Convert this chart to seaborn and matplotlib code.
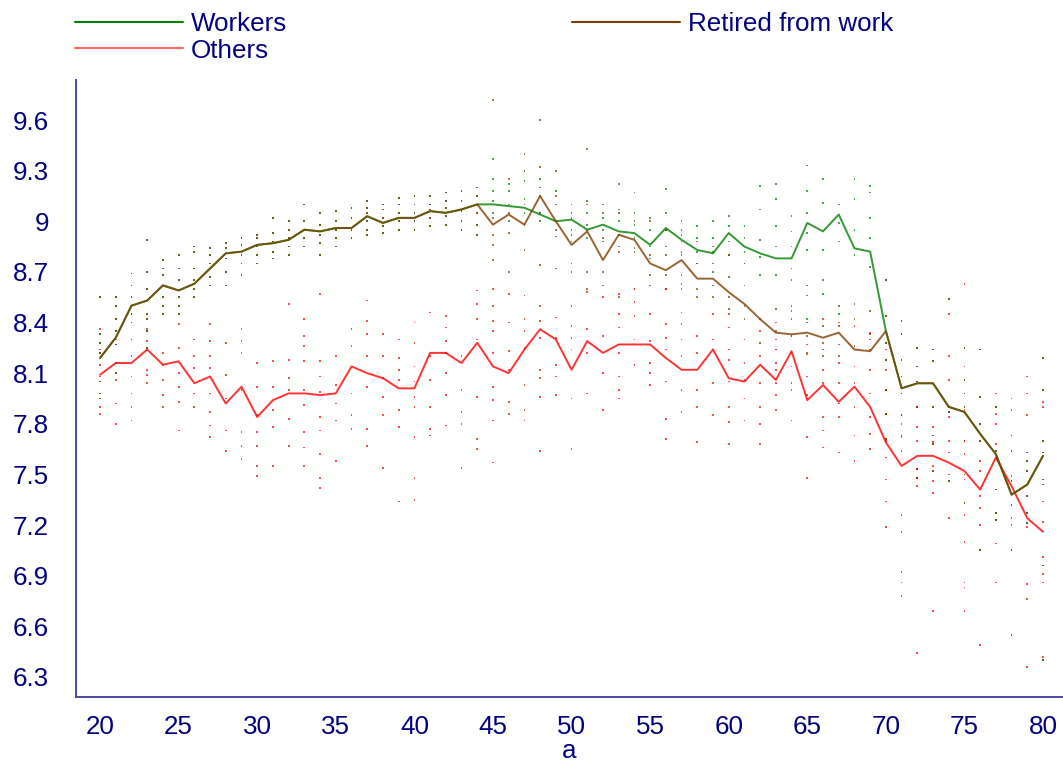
import numpy as np
import pandas as pd
import matplotlib
matplotlib.use("Agg")
import matplotlib.pyplot as plt
from matplotlib.lines import Line2D
import seaborn as sns

# ages on the x axis
ages = list(range(20, 81))

# mean line per group (one value per age 20..80)
workers_line = [8.19, 8.31, 8.50, 8.53, 8.62, 8.59, 8.63, 8.72, 8.81, 8.82,
                8.86, 8.87, 8.89, 8.95, 8.94, 8.96, 8.96, 9.03, 8.99, 9.02,
                9.02, 9.06, 9.05, 9.07, 9.10, 9.10, 9.09, 9.08, 9.04, 9.00,
                9.01, 8.95, 8.98, 8.94, 8.93, 8.86, 8.96, 8.89, 8.83, 8.81,
                8.93, 8.85, 8.81, 8.78, 8.78, 8.99, 8.94, 9.04, 8.84, 8.82,
                8.35, 8.01, 8.04, 8.04, 7.90, 7.87, 7.74, 7.62, 7.38, 7.44,
                7.61]
retired_line = [8.19, 8.31, 8.50, 8.53, 8.62, 8.59, 8.63, 8.72, 8.81, 8.82,
                8.86, 8.87, 8.89, 8.95, 8.94, 8.96, 8.96, 9.03, 8.99, 9.02,
                9.02, 9.06, 9.05, 9.07, 9.10, 8.98, 9.04, 8.98, 9.15, 9.00,
                8.86, 8.94, 8.77, 8.92, 8.89, 8.75, 8.71, 8.77, 8.66, 8.66,
                8.58, 8.51, 8.42, 8.34, 8.33, 8.34, 8.31, 8.34, 8.24, 8.23,
                8.35, 8.01, 8.04, 8.04, 7.90, 7.87, 7.74, 7.62, 7.38, 7.44,
                7.61]
others_line = [8.09, 8.16, 8.16, 8.24, 8.15, 8.17, 8.04, 8.08, 7.92, 8.02,
               7.84, 7.94, 7.98, 7.98, 7.97, 7.98, 8.14, 8.10, 8.07, 8.01,
               8.01, 8.22, 8.22, 8.16, 8.28, 8.14, 8.10, 8.24, 8.36, 8.30,
               8.12, 8.29, 8.22, 8.27, 8.27, 8.27, 8.19, 8.12, 8.12, 8.24,
               8.07, 8.05, 8.15, 8.06, 8.23, 7.94, 8.03, 7.93, 8.02, 7.90,
               7.69, 7.55, 7.61, 7.61, 7.57, 7.52, 7.41, 7.60, 7.43, 7.24,
               7.16]

# individual observations where workers and retired coincide
shared_dots = {
    20: [8.55, 8.33, 8.28, 8.22, 8.05, 7.98, 7.95],
    21: [8.55, 8.5, 8.42, 8.35, 8.27, 8.1],
    22: [8.69, 8.62, 8.55, 8.45, 8.4, 8.3],
    23: [8.89, 8.7, 8.6, 8.45, 8.42, 8.35, 8.25],
    24: [8.77, 8.72, 8.68, 8.55, 8.5, 8.45],
    25: [8.8, 8.72, 8.65, 8.55, 8.5, 8.45],
    26: [8.85, 8.82, 8.72, 8.65, 8.6, 8.55],
    27: [8.84, 8.8, 8.75, 8.67, 8.62],
    28: [8.87, 8.84, 8.78, 8.7, 8.62],
    29: [8.9, 8.86, 8.8, 8.75, 8.68],
    30: [8.92, 8.9, 8.85, 8.8, 8.75],
    31: [9.02, 8.93, 8.88, 8.82, 8.78],
    32: [9.0, 8.95, 8.9, 8.85, 8.8],
    33: [9.1, 9.0, 8.95, 8.9, 8.85],
    34: [9.05, 8.98, 8.92, 8.87, 8.8],
    35: [9.06, 9.0, 8.95, 8.9, 8.85],
    36: [9.08, 9.02, 8.95, 8.9],
    37: [9.12, 9.08, 9.05, 9.0, 8.95, 8.92],
    38: [9.1, 9.07, 9.02, 8.97, 8.93],
    39: [9.14, 9.1, 9.05, 9.0, 8.95],
    40: [9.15, 9.1, 9.05, 9.0, 8.95],
    41: [9.15, 9.1, 9.07, 9.02, 8.97],
    42: [9.17, 9.12, 9.08, 9.03, 8.98],
    43: [9.18, 9.12, 9.06, 9.0, 8.95],
    44: [9.2, 9.15, 9.1, 9.05, 8.98, 8.92],
    70: [8.65, 8.44, 8.28, 8.18, 8.0, 7.86, 7.71],
    71: [8.41, 8.33, 8.18, 8.08, 7.98, 7.85, 7.73],
    72: [8.25, 8.14, 8.05, 7.9, 7.53, 7.48],
    73: [8.24, 8.17, 7.9, 7.73, 7.68, 7.52],
    74: [8.54, 7.9, 7.87, 7.46],
    75: [8.25, 8.06, 7.98, 7.9, 7.7, 7.5, 7.33],
    76: [8.24, 7.96, 7.8, 7.7, 7.05],
    77: [7.9, 7.64, 7.41, 7.27, 7.23],
    78: [7.73, 7.64, 7.46, 7.32, 7.05, 6.55],
    79: [7.63, 7.58, 7.52, 7.37, 7.27, 7.21],
    80: [8.19, 8.0, 7.7, 7.63, 7.47, 7.44, 6.96, 6.4],
}

workers_dots = {
    45: [9.37, 9.25, 9.18, 9.12, 9.05],
    46: [9.22, 9.18, 9.1, 9.0],
    47: [9.3, 9.24, 9.13, 9.05],
    48: [9.25, 9.15, 9.05, 9.0],
    49: [9.18, 9.1, 9.0, 8.91],
    50: [9.1, 9.02, 8.95, 8.88],
    51: [9.12, 9.05, 8.98, 8.9],
    52: [9.1, 9.02, 8.95, 8.88],
    53: [9.07, 9.0, 8.92, 8.85],
    54: [9.05, 8.98, 8.9, 8.82],
    55: [9.02, 8.95, 8.85, 8.78],
    56: [9.19, 9.05, 8.95, 8.85],
    57: [9.0, 8.95, 8.88, 8.8],
    58: [8.97, 8.9, 8.82, 8.75],
    59: [9.0, 8.9, 8.82, 8.7],
    60: [9.03, 8.97, 8.88, 8.8],
    61: [8.97, 8.9, 8.82, 8.75],
    62: [9.21, 9.07, 8.89, 8.79, 8.68],
    63: [9.22, 9.13, 8.97, 8.85, 8.68],
    64: [9.03, 8.94, 8.85, 8.72, 8.65],
    65: [9.33, 9.18, 9.05, 8.93, 8.83, 8.62, 8.42],
    66: [9.25, 9.11, 8.83, 8.65, 8.57],
    67: [9.1, 8.99, 8.88, 8.45],
    68: [9.25, 9.13, 8.95, 8.8, 8.51],
    69: [9.21, 9.17, 9.02, 8.9, 8.73],
}

retired_dots = {
    45: [9.72, 9.02, 8.92, 8.86, 8.77],
    46: [9.25, 9.05, 8.93, 8.7],
    47: [9.4, 9.3, 9.1, 8.98, 8.83],
    48: [9.6, 9.32, 9.2, 9.05, 8.74],
    49: [9.3, 9.15, 8.95, 8.72],
    50: [9.05, 8.92, 8.75, 8.7],
    51: [9.43, 9.1, 8.95, 8.7, 8.6],
    52: [9.05, 8.9, 8.7, 8.62],
    53: [9.22, 9.05, 8.82, 8.55],
    54: [9.17, 9.0, 8.84, 8.6],
    55: [9.0, 8.8, 8.68, 8.62],
    56: [8.95, 8.8, 8.68, 8.6],
    57: [8.92, 8.82, 8.68, 8.6],
    58: [8.88, 8.75, 8.6, 8.55],
    59: [8.85, 8.75, 8.62, 8.55],
    60: [8.8, 8.67, 8.55, 8.48],
    61: [8.75, 8.62, 8.5, 8.42],
    62: [8.42, 8.28],
    63: [8.48, 8.35, 8.24],
    64: [8.5, 8.42, 8.32],
    65: [8.56, 8.32, 8.22],
    66: [8.38, 8.28, 8.2],
    67: [8.5, 8.4, 8.2],
    68: [8.42, 8.26],
    69: [8.47, 8.33, 8.3, 8.24],
}

others_dots = {
    20: [8.36, 8.24, 8.15, 8.08, 7.98, 7.9, 7.86],
    21: [8.3, 8.16, 8.06, 7.92, 7.8],
    22: [8.3, 8.2, 8.08, 7.98, 7.9, 7.82],
    23: [8.36, 8.29, 8.12, 8.09, 8.04],
    24: [8.22, 8.15, 8.06, 7.97, 7.9],
    25: [8.39, 8.25, 8.1, 8.02, 7.93, 7.76],
    26: [8.3, 8.2, 8.13, 7.98, 7.9],
    27: [8.39, 8.29, 8.2, 8.13, 7.98, 7.87, 7.79, 7.72],
    28: [8.28, 8.09, 7.95, 7.76, 7.64],
    29: [8.36, 8.29, 8.22, 8.0, 7.75, 7.67, 7.59],
    30: [8.16, 8.02, 7.85, 7.75, 7.67, 7.55, 7.49],
    31: [8.17, 8.02, 7.88, 7.78, 7.55],
    32: [8.51, 8.18, 8.07, 8.0, 7.83, 7.67],
    33: [8.42, 8.32, 8.26, 8.17, 8.0, 7.91, 7.75, 7.66, 7.55],
    34: [8.57, 8.17, 8.08, 7.99, 7.84, 7.76, 7.62, 7.48, 7.42],
    35: [8.2, 8.03, 7.92, 7.82, 7.58],
    36: [8.36, 8.26, 7.98, 7.85, 7.77],
    37: [8.53, 8.41, 8.33, 8.2, 8.02, 7.77, 7.67],
    38: [8.33, 8.2, 8.07, 7.96, 7.85, 7.54],
    39: [8.3, 8.19, 8.12, 8.06, 7.88, 7.78, 7.34],
    40: [8.4, 8.28, 8.14, 8.05, 7.96, 7.9, 7.72, 7.48, 7.35],
    41: [8.46, 8.2, 8.06, 7.9, 7.77, 7.73],
    42: [8.44, 8.37, 8.29, 8.22, 8.1, 7.97, 7.79],
    43: [8.2, 8.0, 7.87, 7.8, 7.54],
    44: [8.59, 8.51, 8.42, 8.3, 7.96, 7.71, 7.65],
    45: [8.6, 8.5, 8.41, 8.35, 8.22, 8.02, 7.94, 7.82, 7.57],
    46: [8.57, 8.4, 8.23, 8.12, 7.93, 7.86],
    47: [8.56, 8.42, 8.35, 8.25, 8.03, 7.88, 7.82],
    48: [8.5, 8.41, 8.31, 8.12, 8.07, 7.96, 7.64],
    49: [8.43, 8.31, 8.15, 8.08, 7.97],
    50: [8.5, 8.38, 8.31, 8.24, 7.95, 7.65],
    51: [8.58, 8.36, 8.22, 7.98],
    52: [8.55, 8.32, 8.1, 7.88],
    53: [8.57, 8.45, 8.37, 8.22, 8.08, 8.0, 7.95],
    54: [8.6, 8.52, 8.44, 8.3, 8.15],
    55: [8.45, 8.29, 8.16, 8.1, 8.03],
    56: [8.6, 8.39, 8.31, 8.24, 8.05, 7.83, 7.71],
    57: [8.63, 8.46, 8.39, 8.3, 8.2, 8.0, 7.87],
    58: [8.32, 8.22, 8.0, 7.9, 7.69],
    59: [8.45, 8.3, 8.24, 8.04, 7.85],
    60: [8.45, 8.37, 8.24, 8.18, 8.05, 7.9, 7.81, 7.68],
    61: [8.3, 8.16, 8.06, 7.95, 7.82],
    62: [8.35, 8.2, 8.04, 7.9, 7.8, 7.68],
    63: [8.4, 8.3, 8.24, 8.16, 8.12, 8.04, 7.97, 7.88],
    64: [8.47, 8.32, 8.22, 8.14, 8.04, 8.0, 7.82],
    65: [8.4, 8.27, 8.21, 8.08, 7.97, 7.72, 7.48],
    66: [8.42, 8.24, 8.12, 8.04, 7.84, 7.76, 7.66],
    67: [8.38, 8.27, 8.16, 8.04, 7.92, 7.84, 7.63],
    68: [8.38, 8.24, 8.14, 8.04, 7.9, 7.73, 7.58],
    69: [8.34, 8.24, 8.12, 7.98, 7.84, 7.74, 7.65],
    70: [8.24, 8.12, 8.0, 7.86, 7.7, 7.6, 7.47, 7.34, 7.19],
    71: [7.98, 7.85, 7.8, 7.72, 7.64, 7.26, 7.16, 6.92, 6.86, 6.78],
    72: [7.9, 7.78, 7.7, 7.53, 7.48, 7.43, 6.44],
    73: [7.78, 7.69, 7.55, 7.46, 7.39, 6.69],
    74: [8.45, 8.2, 8.06, 7.84, 7.7, 7.63, 7.5, 7.24],
    75: [8.63, 8.14, 7.88, 7.7, 7.62, 7.47, 7.26, 7.1, 6.86, 6.83, 6.69],
    76: [7.58, 7.52, 7.37, 7.3, 7.2, 6.49],
    77: [7.98, 7.86, 7.8, 7.68, 7.09, 6.86],
    78: [7.95, 7.88, 7.49, 7.24, 7.2],
    79: [8.08, 7.98, 7.85, 7.19, 6.85, 6.76, 6.36],
    80: [7.93, 7.9, 7.34, 7.22, 7.01, 6.91, 6.86, 6.42],
}

y_ticks = [6.3, 6.6, 6.9, 7.2, 7.5, 7.8, 8.1, 8.4, 8.7, 9.0, 9.3, 9.6]
y_tick_labels = ["6.3", "6.6", "6.9", "7.2", "7.5", "7.8", "8.1", "8.4",
                 "8.7", "9", "9.3", "9.6"]
x_ticks = list(range(20, 81, 5))

GREEN = "#008000"
BROWN = "#7f3f00"
RED = "#ff0000"
NAVY = "#000080"


def dots_frame(d, group):
    rows = [(age, v, group) for age, vals in d.items() for v in vals]
    return pd.DataFrame(rows, columns=["a", "y", "group"])


lines = pd.DataFrame({
    "a": ages * 3,
    "y": workers_line + retired_line + others_line,
    "group": ["Workers"] * len(ages) + ["Retired from work"] * len(ages)
             + ["Others"] * len(ages),
})

dots = pd.concat([
    dots_frame(shared_dots, "Workers"),
    dots_frame(workers_dots, "Workers"),
    dots_frame(shared_dots, "Retired from work"),
    dots_frame(retired_dots, "Retired from work"),
    dots_frame(others_dots, "Others"),
], ignore_index=True)

sns.set_theme(style="white")
plt.rcParams["font.family"] = ["Liberation Sans", "DejaVu Sans"]

palette = {"Workers": GREEN, "Retired from work": BROWN, "Others": RED}

fig = plt.figure(figsize=(10.63, 7.62), dpi=100)
ax = fig.add_axes([0.0715, 0.0853, 0.9285, 0.8097])

sns.scatterplot(data=dots, x="a", y="y", hue="group", palette=palette,
                hue_order=["Others", "Workers", "Retired from work"],
                marker="s", s=1.6, linewidth=0, alpha=0.7, legend=False, ax=ax)
sns.lineplot(data=lines, x="a", y="y", hue="group", palette=palette,
             hue_order=["Others", "Workers", "Retired from work"],
             linewidth=1.4, alpha=0.8, legend=False, ax=ax)

ax.set_xlim(18.47, 81.27)
ax.set_ylim(6.181, 9.837)
ax.set_xticks(x_ticks)
ax.set_xticklabels([str(t) for t in x_ticks])
ax.set_yticks(y_ticks)
ax.set_yticklabels(y_tick_labels)
ax.set_xlabel("a", fontsize=18.7, color=NAVY, labelpad=0)
ax.set_ylabel("")

for side in ["top", "right"]:
    ax.spines[side].set_visible(False)
for side in ["left", "bottom"]:
    ax.spines[side].set_color("#4848a8")
    ax.spines[side].set_linewidth(1.4)

ax.tick_params(axis="both", direction="out", length=11, width=1.1,
               color=NAVY, labelcolor=NAVY, labelsize=18.7)
ax.tick_params(axis="y", pad=8.5)
ax.tick_params(axis="x", pad=2)
ax.grid(False)

handles = [
    Line2D([], [], color=GREEN, linewidth=1.5),
    Line2D([], [], color=RED, linewidth=1.5, alpha=0.6),
    Line2D([], [], color=BROWN, linewidth=1.5),
]
fig.legend(handles, ["Workers", "Others", "Retired from work"], ncol=2,
           loc="upper left", bbox_to_anchor=(0.0705, 0.984), frameon=False,
           fontsize=18.7, labelcolor=NAVY, handlelength=4.15,
           handletextpad=0.3, columnspacing=11.0, labelspacing=0.09,
           borderpad=0, borderaxespad=0)

fig.savefig("out.png", dpi=100)
